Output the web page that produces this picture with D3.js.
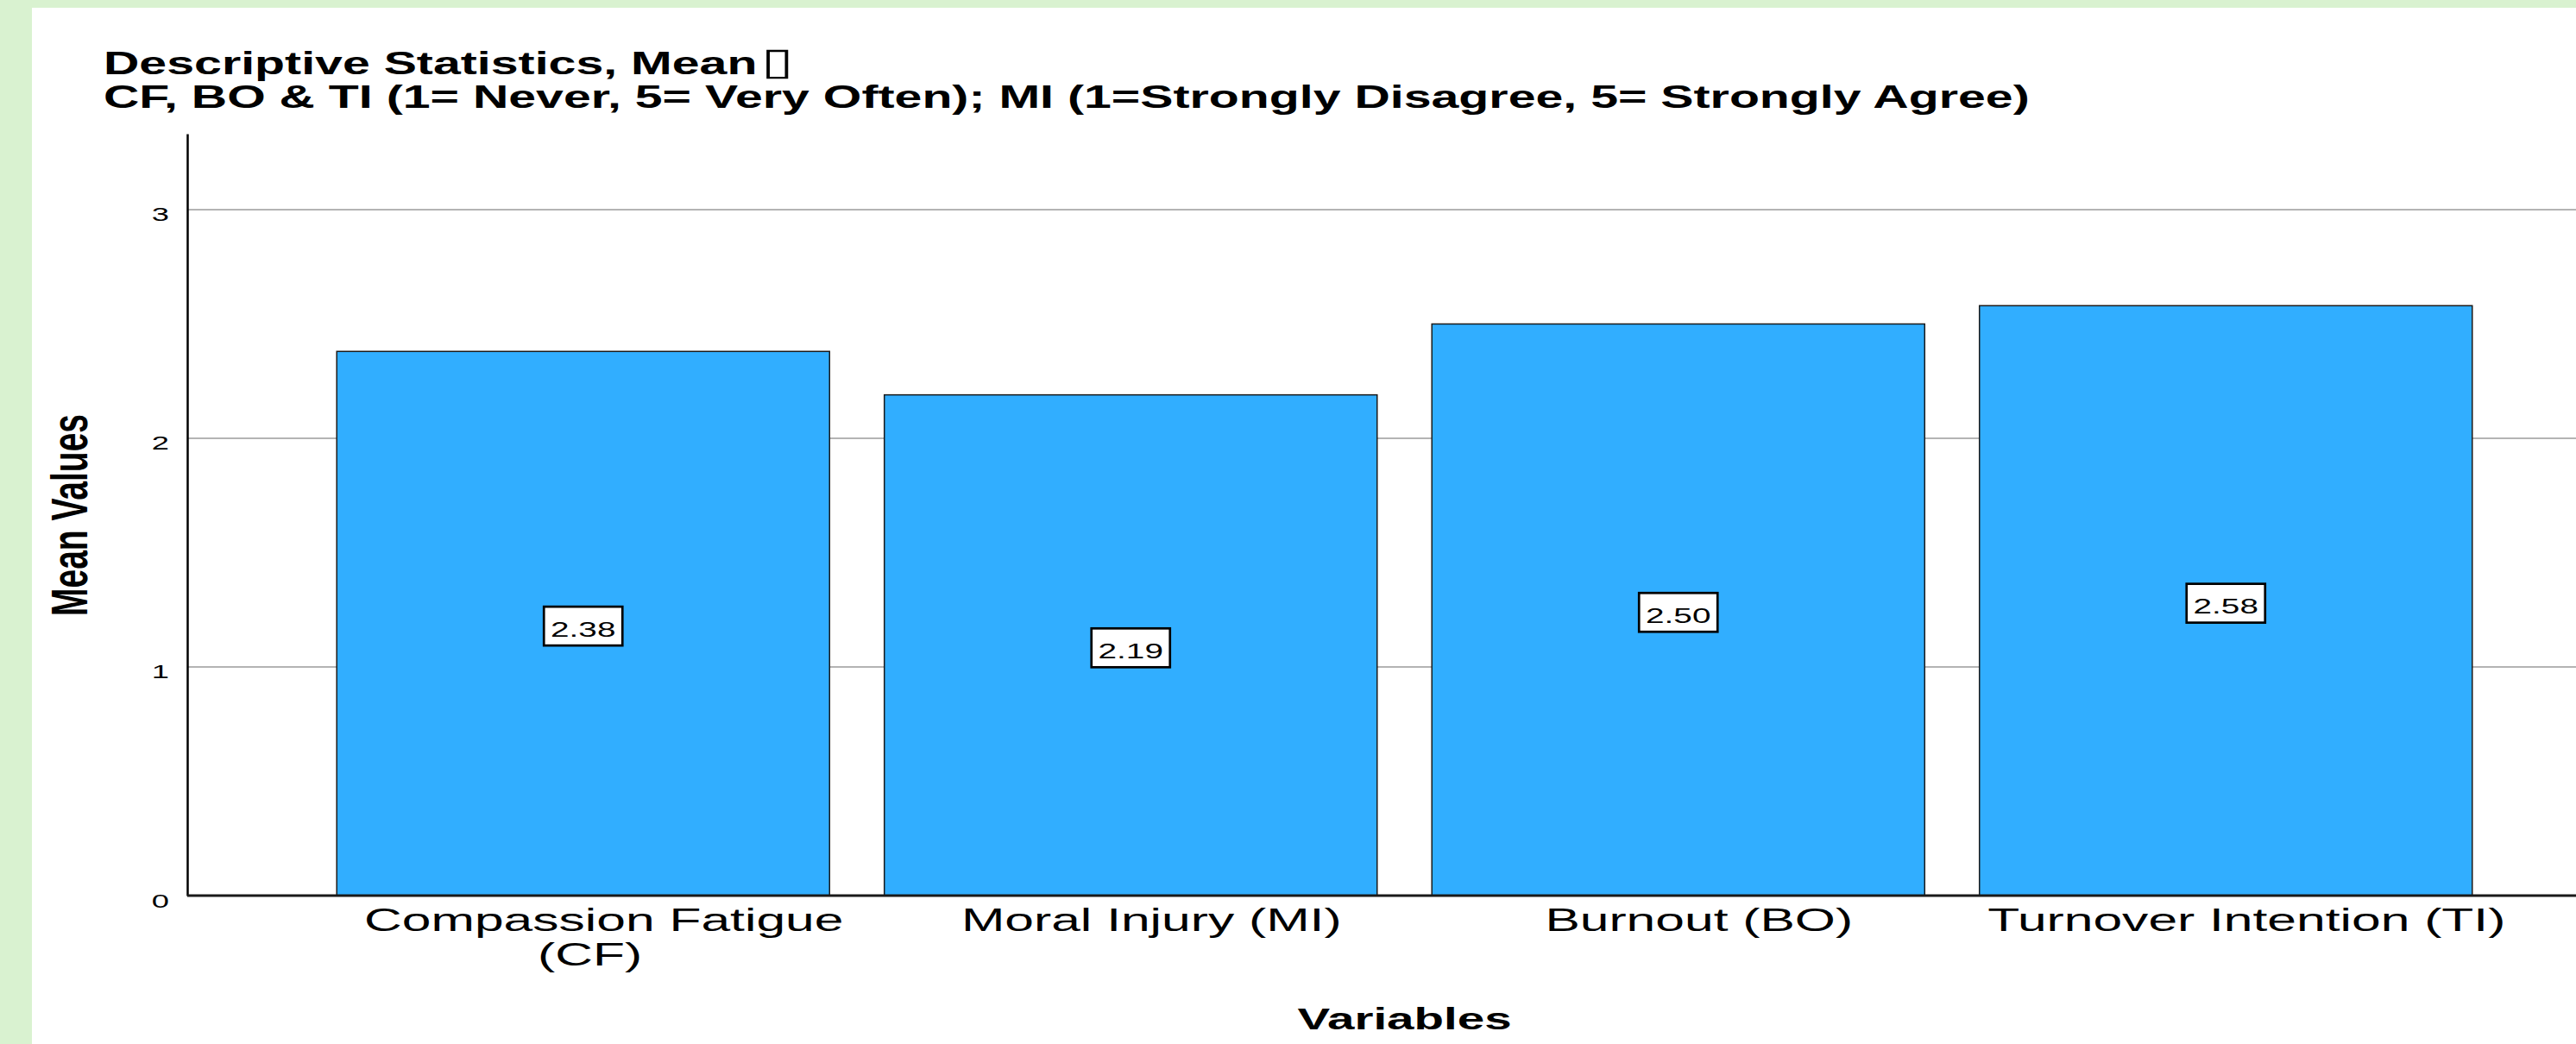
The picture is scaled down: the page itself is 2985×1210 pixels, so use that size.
<!DOCTYPE html>
<html>
<head>
<meta charset="utf-8">
<script src="https://cdn.jsdelivr.net/npm/d3@7"></script>
<style>
  body { margin: 0; background: #d9f2d0; }
  svg { display: block; }
  text { font-family: "Liberation Sans", Arial, sans-serif; fill: #000; }
</style>
</head>
<body>
<svg id="chart" width="2985" height="1210"></svg>
<script>
const categories = ['Compassion Fatigue (CF)', 'Moral Injury (MI)', 'Burnout (BO)', 'Turnover Intention (TI)'];
const means = [2.38, 2.19, 2.50, 2.58];
const yTicks = [0, 1, 2, 3];
const titleLines = [
  'Descriptive Statistics, Mean',
  'CF, BO & TI (1= Never, 5= Very Often); MI (1=Strongly Disagree, 5= Strongly Agree)'
];
const xTitle = 'Variables';
const yTitle = 'Mean Values';

const width = 2985, height = 1210;
const sx = 1.615; // the source picture is stretched sideways, so is its text
const axisX = 217;

const rows = categories.map((c, i) => ({ c, v: means[i] }));

const svg = d3.select('#chart');

svg.append('rect')
  .attr('width', width)
  .attr('height', height)
  .attr('fill', '#d9f2d0');
svg.append('rect')
  .attr('x', 37)
  .attr('y', 9)
  .attr('width', width - 37)
  .attr('height', height - 9)
  .attr('fill', '#fff');

const x = d3.scaleBand()
  .domain(categories)
  .range([358.5, 2896.5])
  .paddingInner(0.1)
  .paddingOuter(0.05);

const y = d3.scaleLinear()
  .domain([0, 3.332])
  .range([1038, 155]);

// grid lines
svg.append('g')
  .selectAll('line')
  .data(yTicks.filter(d => d > 0))
  .join('line')
    .attr('x1', axisX)
    .attr('x2', width)
    .attr('y1', d => y(d))
    .attr('y2', d => y(d))
    .attr('stroke', '#b4b4b4')
    .attr('stroke-width', 2);

// bars
svg.append('g')
  .selectAll('rect')
  .data(rows)
  .join('rect')
    .attr('x', d => x(d.c))
    .attr('y', d => y(d.v))
    .attr('width', x.bandwidth())
    .attr('height', d => y(0) - y(d.v))
    .attr('fill', '#31aeff')
    .attr('stroke', '#1a1a1a')
    .attr('stroke-width', 1.5);

// value labels
const valueLabels = svg.append('g')
  .selectAll('g')
  .data(rows)
  .join('g')
    .attr('transform', d => `translate(${x(d.c) + x.bandwidth() / 2}, ${(y(d.v) + y(0)) / 2 + 3})`);
valueLabels.append('rect')
  .attr('x', -45.5)
  .attr('y', -22.5)
  .attr('width', 91)
  .attr('height', 45)
  .attr('fill', '#fff')
  .attr('stroke', '#000')
  .attr('stroke-width', 2.7);
valueLabels.append('text')
  .attr('text-anchor', 'middle')
  .attr('y', 12)
  .attr('font-size', 24)
  .attr('transform', `scale(${sx},1)`)
  .text(d => d.v.toFixed(2));

// y axis
const yAxis = svg.append('g')
  .attr('transform', `translate(${axisX},0)`)
  .call(d3.axisLeft(y).tickValues(yTicks).tickFormat(d3.format('d')).tickSize(0).tickPadding(0));
yAxis.attr('font-family', null).attr('font-size', null);
yAxis.select('.domain')
  .attr('stroke', '#000')
  .attr('stroke-width', 2.5);
yAxis.selectAll('text')
  .attr('x', null)
  .attr('dy', null)
  .attr('font-size', 22.5)
  .attr('transform', `translate(-21,13) scale(${sx},1)`);

// x axis line
svg.append('line')
  .attr('x1', axisX)
  .attr('x2', width)
  .attr('y1', y(0))
  .attr('y2', y(0))
  .attr('stroke', '#1a1a1a')
  .attr('stroke-width', 3);

// category labels, wrapped when wider than a band step
const catLabels = svg.append('g').attr('font-size', 37.5);
rows.forEach(r => {
  const t = catLabels.append('text')
    .attr('text-anchor', 'middle')
    .attr('transform', `translate(${x(r.c) + x.bandwidth() / 2 + 24}, 1079) scale(${sx},1)`);
  let line = [];
  let tspan = t.append('tspan').attr('x', 0);
  r.c.split(' ').forEach(w => {
    line.push(w);
    tspan.text(line.join(' '));
    if (tspan.node().getComputedTextLength() * sx > x.step() && line.length > 1) {
      line.pop();
      tspan.text(line.join(' '));
      line = [w];
      tspan = t.append('tspan').attr('x', -10).attr('dy', 40).text(w);
    }
  });
});

// titles
const title = svg.append('g')
  .attr('font-weight', 'bold')
  .attr('font-size', 37);
titleLines.forEach((s, i) => {
  title.append('text')
    .attr('transform', `translate(120, ${86 + i * 39}) scale(1.548,1)`)
    .text(s);
});
title.select('text')
  .append('tspan')
    .attr('font-weight', 'normal')
    .attr('font-family', 'DejaVu Sans')
    .attr('font-size', 44)
    .attr('dx', 3)
    .text('\u25AF');

svg.append('text')
  .attr('text-anchor', 'middle')
  .attr('font-weight', 'bold')
  .attr('font-size', 35)
  .attr('transform', `translate(${d3.mean(x.range())}, 1193) scale(${sx},1)`)
  .text(xTitle);

svg.append('text')
  .attr('text-anchor', 'middle')
  .attr('font-weight', 'bold')
  .attr('font-size', 39)
  .attr('transform', 'translate(101,597) scale(1.5,1) rotate(-90)')
  .text(yTitle);
</script>
</body>
</html>
